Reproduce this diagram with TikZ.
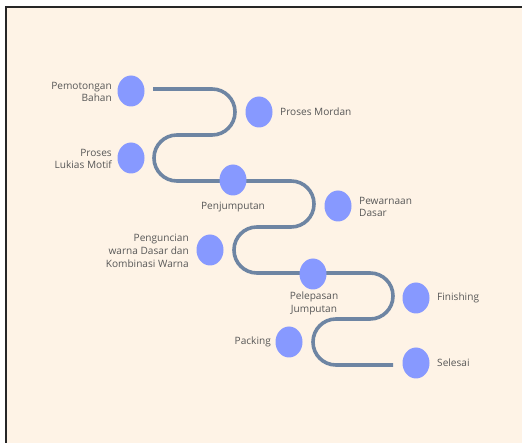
\documentclass[tikz,border=0pt]{standalone}
\usepackage{fontspec}
\setmainfont{Open Sans}
\usetikzlibrary{shapes.geometric}
\definecolor{bg}{HTML}{FEF3E6}
\definecolor{dot}{HTML}{8799FF}
\definecolor{road}{HTML}{6E85A3}
\definecolor{txt}{HTML}{575757}
\begin{document}
\begin{tikzpicture}[x=1pt,y=-1pt,
  stepdot/.style={ellipse, fill=dot, minimum width=27pt, minimum height=31pt, inner sep=0pt},
  lbl/.style={text=txt, font=\fontsize{10.1}{12.8}\selectfont, inner sep=0pt},
  roadline/.style={draw=road, line width=3.6pt, rounded corners=22.9pt}
]
\useasboundingbox (0,0) rectangle (522,443);
\fill[white] (0,0) rectangle (522,443);
\fill[bg] (6,7) rectangle (522,443);
\draw[line width=2pt, black!85] (6,443) -- (6,7) -- (522,7);

\coordinate (pstart) at (153,89);
\coordinate (pend) at (393,365);
\path[roadline] (pstart) -- (235,89) -- (235,135) -- (154,135) -- (154,181)
  -- (314,181) -- (314,227) -- (234,227) -- (234,273) -- (393,273)
  -- (393,319) -- (313,319) -- (313,365) -- (pend);

\node[stepdot] (n1) at (131,91) {};
\node[stepdot] (n2) at (259,112) {};
\node[stepdot] (n3) at (131,158) {};
\node[stepdot] (n4) at (233,180) {};
\node[stepdot] (n5) at (338,206) {};
\node[stepdot] (n6) at (210,250) {};
\node[stepdot] (n7) at (313,274) {};
\node[stepdot] (n8) at (416,298) {};
\node[stepdot] (n9) at (289,342) {};
\node[stepdot] (n10) at (416,363) {};

\node[lbl, anchor=east, align=right] (l1) at (112,92) {Pemotongan\\Bahan};
\node[lbl, anchor=west] (l2) at (280,112) {Proses Mordan};
\node[lbl, anchor=east, align=right] (l3) at (112,159) {Proses\\Lukias Motif};
\node[lbl] (l4) at (233,207) {Penjumputan};
\node[lbl, anchor=west, align=left] (l5) at (359,207) {Pewarnaan\\Dasar};
\node[lbl, anchor=east, align=right] (l6) at (189,251) {Penguncian\\warna Dasar dan\\Kombinasi Warna};
\node[lbl, align=center] (l7) at (314,303) {Pelepasan\\Jumputan};
\node[lbl, anchor=west] (l8) at (437,298) {Finishing};
\node[lbl, anchor=east] (l9) at (271,342) {Packing};
\node[lbl, anchor=west] (l10) at (437,363) {Selesai};
\end{tikzpicture}
\end{document}
